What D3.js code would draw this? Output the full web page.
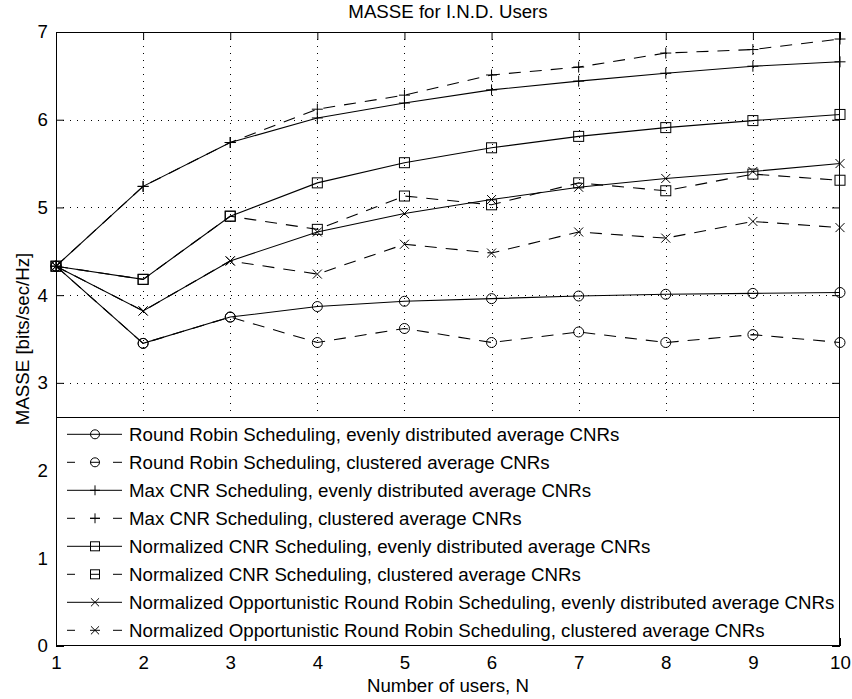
<!DOCTYPE html>
<html>
<head>
<meta charset="utf-8">
<script src="https://cdn.jsdelivr.net/npm/d3@7"></script>
<style>
  html, body { margin: 0; padding: 0; background: #fff; }
  svg text { font-family: "Liberation Sans", Arial, Helvetica, sans-serif; fill: #000; }
</style>
</head>
<body>
<svg id="chart" width="852" height="699"></svg>
<script>
// ---- data ----
const users = [1, 2, 3, 4, 5, 6, 7, 8, 9, 10];
const rrEven   = [4.33, 3.45, 3.75, 3.87, 3.93, 3.96, 3.99, 4.01, 4.02, 4.03];
const rrClust  = [4.33, 3.45, 3.75, 3.46, 3.62, 3.46, 3.58, 3.46, 3.55, 3.46];
const maxEven  = [4.33, 5.24, 5.74, 6.02, 6.19, 6.34, 6.44, 6.53, 6.61, 6.66];
const maxClust = [4.33, 5.24, 5.74, 6.12, 6.28, 6.51, 6.60, 6.76, 6.80, 6.92];
const ncEven   = [4.33, 4.18, 4.90, 5.28, 5.51, 5.68, 5.81, 5.91, 5.99, 6.06];
const ncClust  = [4.33, 4.18, 4.90, 4.75, 5.13, 5.03, 5.28, 5.19, 5.38, 5.31];
const norrEven = [4.33, 3.82, 4.39, 4.72, 4.93, 5.09, 5.23, 5.33, 5.41, 5.50];
const norrClust= [4.33, 3.82, 4.39, 4.24, 4.58, 4.48, 4.72, 4.65, 4.84, 4.77];
const xTicks = [1, 2, 3, 4, 5, 6, 7, 8, 9, 10];
const yTicks = [0, 1, 2, 3, 4, 5, 6, 7];
const titleText = "MASSE for I.N.D. Users";
const xLabel = "Number of users, N";
const yLabel = "MASSE [bits/sec/Hz]";

const series = [
  { name: "Round Robin Scheduling, evenly distributed average CNRs", values: rrEven, marker: "circle", dashed: false },
  { name: "Round Robin Scheduling, clustered average CNRs", values: rrClust, marker: "circle", dashed: true },
  { name: "Max CNR Scheduling, evenly distributed average CNRs", values: maxEven, marker: "plus", dashed: false },
  { name: "Max CNR Scheduling, clustered average CNRs", values: maxClust, marker: "plus", dashed: true },
  { name: "Normalized CNR Scheduling, evenly distributed average CNRs", values: ncEven, marker: "square", dashed: false },
  { name: "Normalized CNR Scheduling, clustered average CNRs", values: ncClust, marker: "square", dashed: true },
  { name: "Normalized Opportunistic Round Robin Scheduling, evenly distributed average CNRs", values: norrEven, marker: "cross", dashed: false },
  { name: "Normalized Opportunistic Round Robin Scheduling, clustered average CNRs", values: norrClust, marker: "cross", dashed: true }
];

// ---- layout ----
const L = 56, R = 840, T = 32, B = 646;
const FS = 18.7;
const svg = d3.select("#chart");
const x = d3.scaleLinear().domain([1, 10]).range([L, R]);
const y = d3.scaleLinear().domain([0, 7]).range([B, T]);

// grid
const grid = svg.append("g").attr("stroke", "#000").attr("stroke-width", 1)
  .attr("stroke-dasharray", "1,6").attr("shape-rendering", "crispEdges");
grid.selectAll(".gx").data(xTicks.slice(1, -1)).join("line")
  .attr("x1", d => Math.round(x(d)) + 0.5).attr("x2", d => Math.round(x(d)) + 0.5)
  .attr("y1", T).attr("y2", B);
grid.selectAll(".gy").data(yTicks.slice(1, -1)).join("line")
  .attr("y1", d => Math.round(y(d)) + 0.5).attr("y2", d => Math.round(y(d)) + 0.5)
  .attr("x1", L).attr("x2", R);

// axes
function styleAxis(g) {
  g.select(".domain").remove();
  g.selectAll("line").attr("stroke", "#000");
  g.selectAll("text").style("font-size", FS + "px").attr("fill", "#000")
    .style("font-family", '"Liberation Sans", Arial, Helvetica, sans-serif');
}
svg.append("g").attr("transform", `translate(0,${B})`)
  .call(d3.axisBottom(x).tickValues(xTicks).tickSizeInner(-8).tickSizeOuter(0).tickPadding(10).tickFormat(d3.format("d")))
  .call(styleAxis);
svg.append("g").attr("transform", `translate(${L},0)`)
  .call(d3.axisLeft(y).tickValues(yTicks).tickSizeInner(-8).tickSizeOuter(0).tickPadding(8).tickFormat(d3.format("d")))
  .call(styleAxis);
svg.append("g").attr("transform", `translate(0,${T})`)
  .call(d3.axisTop(x).tickValues(xTicks).tickSizeInner(-8).tickSizeOuter(0).tickFormat(""))
  .call(styleAxis);
svg.append("g").attr("transform", `translate(${R},0)`)
  .call(d3.axisRight(y).tickValues(yTicks).tickSizeInner(-8).tickSizeOuter(0).tickFormat(""))
  .call(styleAxis);

// markers
function drawMarker(g, type, cx, cy, scale) {
  const s = scale || 1;
  if (type === "circle") {
    g.append("circle").attr("cx", cx).attr("cy", cy).attr("r", 5 * s)
      .attr("fill", "none").attr("stroke", "#000");
  } else if (type === "square") {
    const h = 5 * s;
    g.append("rect").attr("x", cx - h).attr("y", cy - h).attr("width", 2 * h).attr("height", 2 * h)
      .attr("fill", "none").attr("stroke", "#000");
  } else if (type === "plus") {
    const h = 5.5 * s;
    g.append("path").attr("d", `M${cx - h},${cy}H${cx + h}M${cx},${cy - h}V${cy + h}`)
      .attr("stroke", "#000").attr("fill", "none");
  } else if (type === "cross") {
    const h = 4.5 * s;
    g.append("path").attr("d", `M${cx - h},${cy - h}L${cx + h},${cy + h}M${cx - h},${cy + h}L${cx + h},${cy - h}`)
      .attr("stroke", "#000").attr("fill", "none");
  }
}

// lines
const line = d3.line().x((d, i) => x(users[i])).y(d => y(d));
const plot = svg.append("g");
series.forEach(s => {
  plot.append("path").datum(s.values).attr("d", line)
    .attr("fill", "none").attr("stroke", "#000").attr("stroke-width", 1.1)
    .attr("stroke-dasharray", s.dashed ? "12,9" : null);
});
series.forEach(s => {
  const mg = plot.append("g");
  s.values.forEach((v, i) => drawMarker(mg, s.marker, x(users[i]), y(v), 1));
});

// box
svg.append("rect").attr("x", L + 0.5).attr("y", T + 0.5).attr("width", R - L - 1).attr("height", B - T - 1)
  .attr("fill", "none").attr("stroke", "#000").attr("stroke-width", 1);

// legend
const legTop = 417, rowH = 28, row0 = 434.3;
const leg = svg.append("g");
leg.append("rect").attr("x", L + 0.5).attr("y", legTop + 0.5).attr("width", R - L - 1).attr("height", B - legTop - 1)
  .attr("fill", "#fff").attr("stroke", "#000").attr("stroke-width", 1);
series.forEach((s, i) => {
  const cy = row0 + i * rowH;
  const g = leg.append("g");
  g.append("line").attr("x1", 67).attr("x2", 122).attr("y1", cy).attr("y2", cy)
    .attr("stroke", "#000").attr("stroke-width", 1)
    .attr("stroke-dasharray", s.dashed ? "8,15,10,13,9" : null);
  drawMarker(g, s.marker, 95, cy, 0.9);
  g.append("text").attr("x", 129).attr("y", cy).attr("dy", "0.35em")
    .style("font-size", FS + "px").text(s.name);
});

// titles
svg.append("text").attr("x", (L + R) / 2).attr("y", 17.5).attr("text-anchor", "middle")
  .style("font-size", FS + "px").text(titleText);
svg.append("text").attr("x", (L + R) / 2).attr("y", 692).attr("text-anchor", "middle")
  .style("font-size", FS + "px").text(xLabel);
svg.append("text").attr("transform", `translate(29,${(T + B) / 2}) rotate(-90)`).attr("text-anchor", "middle")
  .style("font-size", FS + "px").text(yLabel);
</script>
</body>
</html>
